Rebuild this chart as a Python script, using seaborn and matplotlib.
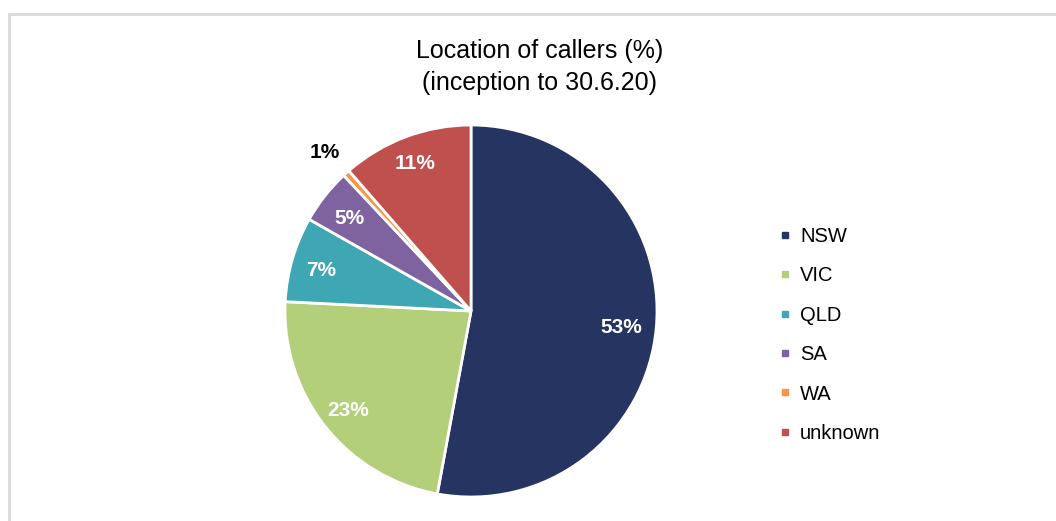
import numpy as np
import matplotlib
matplotlib.use("Agg")
import matplotlib.pyplot as plt
from matplotlib.lines import Line2D
from matplotlib.patches import Rectangle
import seaborn as sns

sns.set_theme(style="white")
plt.rcParams['font.family'] = ['Liberation Sans', 'DejaVu Sans']

# Data
categories = ["NSW", "VIC", "QLD", "SA", "WA", "unknown"]
values = [52.9, 22.9, 7.4, 4.8, 0.6, 11.4]
pct_labels = ["53%", "23%", "7%", "5%", "1%", "11%"]
colors = ["#253461", "#b3cf7a", "#3fa6b3", "#7f63a1", "#f79646", "#c0504d"]
label_dist = [0.81, 0.84, 0.84, 0.83, 1.17, 0.86]
label_color = ["white", "white", "white", "white", "black", "white"]
title = "Location of callers (%)\n(inception to 30.6.20)"

W, H = 1056, 521
fig = plt.figure(figsize=(W / 100, H / 100), dpi=100)

# light border
fig.patches.append(Rectangle((8.5 / W, -0.5), 2.0, 1.5 - 13.5 / H, transform=fig.transFigure,
                             fill=False, edgecolor="#d9d9d9", linewidth=2.0, zorder=0))

cx, cy, r = 471, 311, 186
ax = fig.add_axes([(cx - r) / W, (H - cy - r) / H, 2 * r / W, 2 * r / H])
wedges, _ = ax.pie(values, colors=colors, startangle=90, counterclock=False,
                   wedgeprops=dict(edgecolor="white", linewidth=2))
ax.set_xlim(-1, 1)
ax.set_ylim(-1, 1)
ax.set_aspect("equal")
ax.axis("off")

for w, lab, d, c in zip(wedges, pct_labels, label_dist, label_color):
    ang = np.deg2rad((w.theta1 + w.theta2) / 2)
    ax.text(d * np.cos(ang), d * np.sin(ang) - 0.015, lab, ha="center", va="center",
            fontsize=15, fontweight="bold", color=c, clip_on=False)

fig.text(540 / W, 1 - 67 / H, title, ha="center", va="center", fontsize=18,
         linespacing=1.42, color="black")

handles = [Line2D([0], [0], marker="s", linestyle="none", markersize=5,
                  markerfacecolor=col, markeredgecolor=col) for col in colors]
fig.legend(handles, categories, loc="center left", bbox_to_anchor=(769 / W, 1 - 335 / H),
           frameon=False, fontsize=14.5, handlelength=0.6, handletextpad=0.45,
           labelspacing=1.01, borderpad=0, labelcolor="black")

fig.savefig("out.png", dpi=100)
